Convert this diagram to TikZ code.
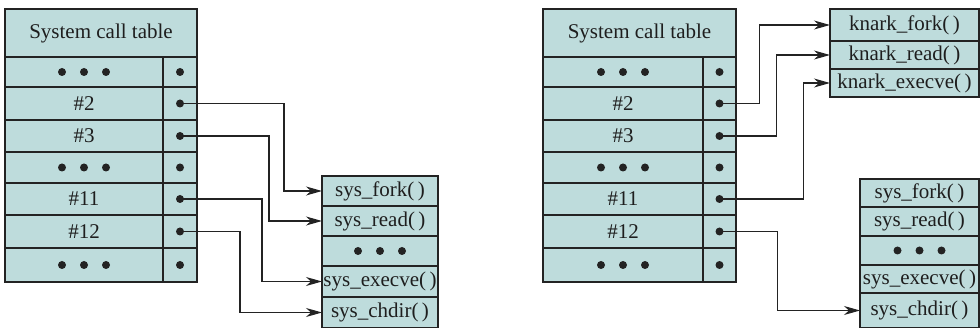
\documentclass[tikz,border=0pt]{standalone}
\usepackage{fontspec}
\setmainfont{Liberation Serif}
\usetikzlibrary{arrows.meta}
\definecolor{cellc}{RGB}{190,220,220}
\definecolor{linec}{RGB}{35,35,35}
\definecolor{textc}{RGB}{30,30,30}
\tikzset{
  cell/.style={draw=linec, fill=cellc, line width=1.1pt, inner sep=0pt, outer sep=0pt,
    anchor=north west, text=textc, font=\fontsize{21}{25}\selectfont},
  ptr/.style={circle, fill=linec, inner sep=0pt, outer sep=0pt, minimum size=8pt},
  link/.style={draw=linec, line width=1.1pt, -{Stealth[length=16pt,width=9pt,inset=5pt]}},
}
\newcommand\mkcell[6]{\node[cell, minimum width={#4pt-#2pt}, minimum height={#5pt-#3pt}] (#1) at (#2,#3) {#6};}
\newcommand\ellip[1]{\foreach \d in {-22,0,22}{\fill[linec] ([xshift=\d pt]#1.center) circle (4pt);}}
\begin{document}
\begin{tikzpicture}[x=1pt,y=-1pt]
\useasboundingbox (0,0) rectangle (980,328);
\clip (0,0) rectangle (980,327.4);
% ---------- left table ----------
\mkcell{LH}{5}{9}{197}{57}{System call table}
\mkcell{La1}{5}{57}{163}{87}{}        \mkcell{Lb1}{163}{57}{197}{87}{}
\mkcell{La2}{5}{87}{163}{120}{\#2}    \mkcell{Lb2}{163}{87}{197}{120}{}
\mkcell{La3}{5}{120}{163}{152}{\#3}   \mkcell{Lb3}{163}{120}{197}{152}{}
\mkcell{La4}{5}{152}{163}{183}{}      \mkcell{Lb4}{163}{152}{197}{183}{}
\mkcell{La5}{5}{183}{163}{215}{\#11}  \mkcell{Lb5}{163}{183}{197}{215}{}
\mkcell{La6}{5}{215}{163}{248}{\#12}  \mkcell{Lb6}{163}{215}{197}{248}{}
\mkcell{La7}{5}{248}{163}{282}{}      \mkcell{Lb7}{163}{248}{197}{282}{}
\ellip{La1}\ellip{La4}\ellip{La7}
\foreach \i in {1,...,7}{\node[ptr] (Lp\i) at (Lb\i.center) {};}
% left sys box
\mkcell{Lfork}{322}{176}{438}{206}{sys\_fork(\,)}
\mkcell{Lread}{322}{206}{438}{236}{sys\_read(\,)}
\mkcell{Ldots}{322}{236}{438}{266}{}
\mkcell{Lexec}{322}{266}{438}{297}{sys\_execve(\,)}
\mkcell{Lchdir}{322}{297}{438}{328}{sys\_chdir(\,)}
\ellip{Ldots}
% left connectors
\draw[link] (Lp2.center) -- ++(104,0) |- (Lfork.west);
\draw[link] (Lp3.center) -- ++(89,0) |- (Lread.west);
\draw[link] (Lp5.center) -- ++(82,0) |- (Lexec.west);
\draw[link] (Lp6.center) -- ++(60,0) |- (Lchdir.west);
% ---------- right table ----------
\mkcell{RH}{543}{9}{736}{57}{System call table}
\mkcell{Ra1}{543}{57}{703}{87}{}        \mkcell{Rb1}{703}{57}{736}{87}{}
\mkcell{Ra2}{543}{87}{703}{120}{\#2}    \mkcell{Rb2}{703}{87}{736}{120}{}
\mkcell{Ra3}{543}{120}{703}{152}{\#3}   \mkcell{Rb3}{703}{120}{736}{152}{}
\mkcell{Ra4}{543}{152}{703}{183}{}      \mkcell{Rb4}{703}{152}{736}{183}{}
\mkcell{Ra5}{543}{183}{703}{215}{\#11}  \mkcell{Rb5}{703}{183}{736}{215}{}
\mkcell{Ra6}{543}{215}{703}{248}{\#12}  \mkcell{Rb6}{703}{215}{736}{248}{}
\mkcell{Ra7}{543}{248}{703}{282}{}      \mkcell{Rb7}{703}{248}{736}{282}{}
\ellip{Ra1}\ellip{Ra4}\ellip{Ra7}
\foreach \i in {1,...,7}{\node[ptr] (Rp\i) at (Rb\i.center) {};}
% knark box
\mkcell{Kfork}{830}{9}{979}{41}{knark\_fork(\,)}
\mkcell{Kread}{830}{41}{979}{69}{knark\_read(\,)}
\mkcell{Kexec}{830}{69}{979}{97}{knark\_execve(\,)}
% right sys box
\mkcell{Rfork}{860}{179}{979}{207}{sys\_fork(\,)}
\mkcell{Rread}{860}{207}{979}{236}{sys\_read(\,)}
\mkcell{Rdots}{860}{236}{979}{265}{}
\mkcell{Rexec}{860}{265}{979}{293}{sys\_execve(\,)}
\mkcell{Rchdir}{860}{293}{979}{328}{sys\_chdir(\,)}
\ellip{Rdots}
% right connectors
\draw[link] (Rp2.center) -- ++(40,0) |- (Kfork.west);
\draw[link] (Rp3.center) -- ++(57,0) |- (Kread.west);
\draw[link] (Rp5.center) -- ++(84,0) |- (Kexec.west);
\draw[link] (Rp6.center) -- ++(58,0) |- (Rchdir.west);
\end{tikzpicture}
\end{document}
